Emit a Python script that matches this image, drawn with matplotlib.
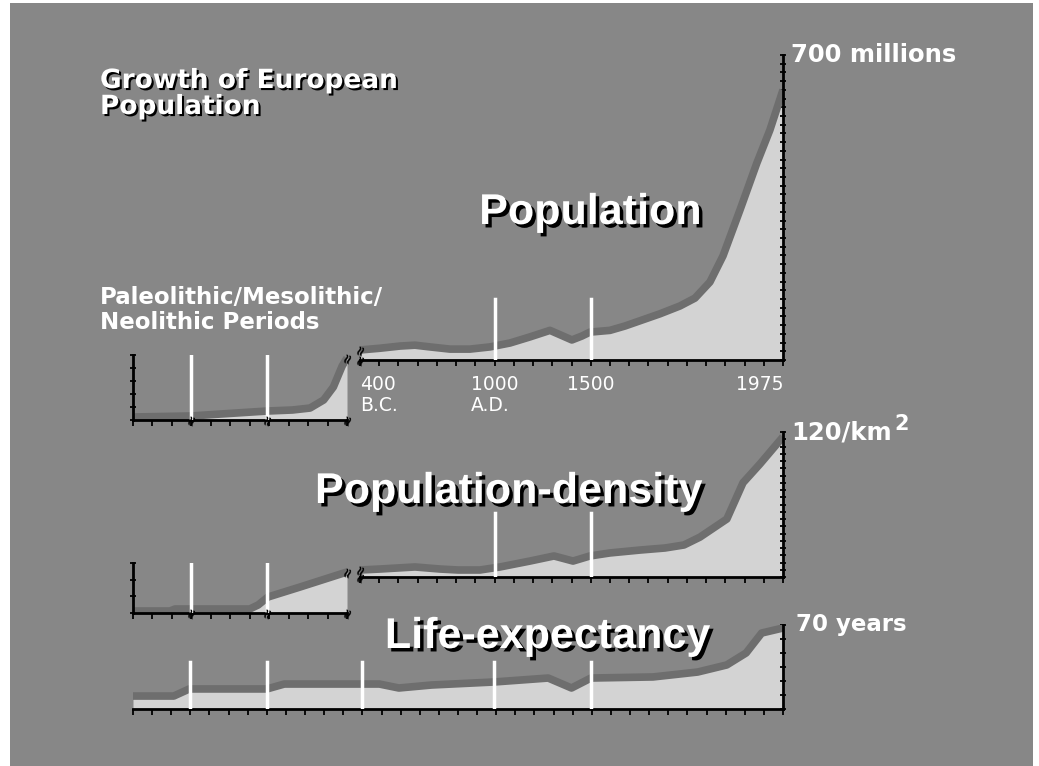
import matplotlib
matplotlib.use('Agg')
import matplotlib.pyplot as plt
import matplotlib.patheffects as pe
import numpy as np

# --- data ---
# prehistoric population panel (tick units 0..11, value units 0..5)
pop_pre_x = [0, 3.0, 4.5, 6.9, 8.2, 9.1, 9.8, 10.3, 10.75, 11]
pop_pre_y = [0.23, 0.31, 0.46, 0.69, 0.77, 0.92, 1.54, 2.54, 4.15, 4.77]
pop_pre_lines = [3.0, 6.9]

# historic population (tick units 0..22, millions)
pop_x = [0, 1.04, 2.08, 2.86, 3.64, 4.68, 5.72, 6.76, 7.8, 8.84, 9.88, 10.4, 11.02,
         11.54, 11.96, 13.0, 13.78, 14.56, 15.6, 16.64, 17.42, 18.2, 18.88, 19.76,
         20.64, 21.32, 22]
pop_y = [23, 27, 32, 34, 30, 25, 25, 30, 39, 53, 68, 58, 46, 55, 64, 68, 78, 90,
         106, 124, 142, 179, 239, 344, 452, 528, 620]
pop_ticks = [0, 7, 12, 22]
pop_tick_labels = ['400\nB.C.', '1000\nA.D.', '1500', '1975']
main_lines = [7, 12]

# prehistoric density (0..11, value units 0..3)
dens_pre_x = [0, 1.9, 2.16, 6.0, 6.43, 6.94, 8.59, 11]
dens_pre_y = [0.12, 0.12, 0.24, 0.24, 0.48, 0.96, 1.56, 2.46]

# historic density (0..22, per km2)
dens_x = [0, 1.04, 2.86, 4.16, 5.1, 6.24, 7.28, 8.84, 10.09, 11.08, 11.96, 13.0,
          14.56, 15.86, 16.85, 17.68, 19.08, 19.92, 20.8, 22]
dens_y = [5.8, 6.6, 8.3, 6.6, 5.8, 5.8, 8.3, 13.2, 17.4, 13.2, 17.4, 19.9, 22.3,
          24, 26.5, 33, 48, 78, 93.5, 116]

# life expectancy (continuous 0..33.5, years)
life_x = [0, 2.1, 2.9, 6.9, 7.8, 12.7, 13.7, 15.4, 18.6, 21.4, 22.6, 23.6, 26.8,
          29.1, 30.6, 31.6, 32.4, 33.5]
life_y = [10.8, 10.8, 16.7, 16.7, 20.8, 20.8, 17.5, 20, 22.5, 25.8, 17.5, 25.8,
          26.7, 30.8, 36.7, 46.7, 63.3, 67.5]
life_lines = [2.94, 6.9, 11.8, 18.6, 23.6]

bg = '#878787'
band = '#6e6e6e'
fill = '#d3d3d3'
W, H = 1039, 766

plt.rcParams['font.family'] = ['Liberation Sans', 'DejaVu Sans']

fig = plt.figure(figsize=(W / 100, H / 100), dpi=100)
fig.patch.set_facecolor('white')
fig.add_artist(plt.Rectangle((10 / W, 0), 1023 / W, 763 / H, transform=fig.transFigure,
                             facecolor=bg, edgecolor='none', zorder=0))


def px_axes(x0, y0, x1, y1):
    # axes from pixel box (top-left origin)
    return fig.add_axes((x0 / W, 1 - y1 / H, (x1 - x0) / W, (y1 - y0) / H))


def style(ax, side):
    ax.patch.set_alpha(0)
    for s in ['top', 'left', 'right']:
        ax.spines[s].set_visible(False)
    ax.spines['bottom'].set_linewidth(2)
    ax.spines[side].set_visible(True)
    ax.spines[side].set_linewidth(2)
    ax.tick_params(axis='x', direction='out', length=4, width=1.3, labelsize=13.5,
                   labelcolor='white', pad=7, labelfontfamily='DejaVu Sans')
    ax.tick_params(axis='y', direction='inout', length=5, width=1.3, left=(side == 'left'),
                   right=(side == 'right'), labelleft=False, labelright=False)


def curve(ax, x, y, lines, line_top):
    ax.fill_between(x, 0, y, color=fill, lw=0, zorder=1)
    ax.plot(x, y, color=band, lw=5.5, solid_capstyle='butt', solid_joinstyle='round', zorder=2)
    for lx in lines:
        ax.axvline(lx, ymin=0, ymax=line_top, color='white', lw=2.5, zorder=3)


def brk(ax, x, y):
    ax.text(x, y, '≈', rotation=70, fontsize=10, fontweight='bold', color='black',
            ha='center', va='center', clip_on=False, zorder=5, family='DejaVu Sans')


def end_label(ax, txt, sup=None, size=17.5):
    t = ax.text(1.02, 1.0, txt, transform=ax.transAxes, color='white', fontsize=size,
                fontweight='bold', ha='left', va='center', family='DejaVu Sans')
    if sup:
        ax.annotate(sup, xy=(1.0, 1.0), xycoords=t, xytext=(2, 4), textcoords='offset points',
                    color='white', fontsize=15, fontweight='bold', ha='left', va='top',
                    family='DejaVu Sans')


# population, prehistoric
ax1 = px_axes(133, 355, 347, 420)
style(ax1, 'left')
curve(ax1, pop_pre_x, pop_pre_y, pop_pre_lines, 1.0)
ax1.set_xlim(0, 11)
ax1.set_ylim(0, 5)
ax1.set_xticks(range(12))
ax1.set_xticklabels([])
ax1.set_yticks(range(6))
for bx in pop_pre_lines + [11]:
    brk(ax1, bx, 0)
brk(ax1, 11, pop_pre_y[-1])

# population, historic
ax2 = px_axes(360, 55, 783, 360)
style(ax2, 'right')
curve(ax2, pop_x, pop_y, main_lines, 0.2)
ax2.set_xlim(0, 22)
ax2.set_ylim(0, 700)
ax2.set_xticks(range(23))
labs = [''] * 23
for t, l in zip(pop_ticks, pop_tick_labels):
    labs[t] = l
ax2.set_xticklabels(labs)
for t in ax2.get_xticklabels():
    t.set_multialignment('left')
    t.set_linespacing(1.1)
ax2.get_xticklabels()[0].set_ha('left')
ax2.get_xticklabels()[22].set_ha('right')
ax2.set_yticks(np.arange(0, 701, 20))
brk(ax2, 0, 0)
brk(ax2, 0, pop_y[0])
end_label(ax2, '700 millions')

# density, prehistoric
ax3 = px_axes(133, 563, 347, 613)
style(ax3, 'left')
curve(ax3, dens_pre_x, dens_pre_y, pop_pre_lines, 1.0)
ax3.set_xlim(0, 11)
ax3.set_ylim(0, 3)
ax3.set_xticks(range(12))
ax3.set_xticklabels([])
ax3.set_yticks(range(4))
for bx in pop_pre_lines + [11]:
    brk(ax3, bx, 0)
brk(ax3, 11, dens_pre_y[-1])

# density, historic
ax4 = px_axes(360, 432, 783, 577)
style(ax4, 'right')
curve(ax4, dens_x, dens_y, main_lines, 0.44)
ax4.set_xlim(0, 22)
ax4.set_ylim(0, 120)
ax4.set_xticks(range(23))
ax4.set_xticklabels([])
ax4.set_yticks(np.arange(0, 121, 6))
brk(ax4, 0, 0)
brk(ax4, 0, dens_y[0])
end_label(ax4, '120/km', '2')

# life expectancy
ax5 = px_axes(133, 625, 783, 709)
style(ax5, 'right')
curve(ax5, life_x, life_y, life_lines, 0.56)
ax5.set_xlim(0, 33.5)
ax5.set_ylim(0, 70)
ax5.set_xticks(np.linspace(0, 33.5, 35))
ax5.set_xticklabels([])
ax5.set_yticks(np.linspace(0, 70, 7))
end_label(ax5, '70 years', size=16.5)

# headings
shadow_big = [pe.SimplePatchShadow(offset=(2.5, -2.5), shadow_rgbFace='black', alpha=1), pe.Normal()]
shadow_small = [pe.SimplePatchShadow(offset=(1.5, -1.5), shadow_rgbFace='black', alpha=1), pe.Normal()]

fig.text(100 / W, 1 - 68 / H, 'Growth of European\nPopulation', color='white', fontsize=19,
         fontweight='bold', ha='left', va='top', linespacing=1.0, family='DejaVu Sans',
         path_effects=shadow_small)
fig.text(100 / W, 1 - 286 / H, 'Paleolithic/Mesolithic/\nNeolithic Periods', color='white',
         fontsize=16.5, fontweight='bold', ha='left', va='top', linespacing=1.1,
         family='DejaVu Sans')
fig.text(590 / W, 1 - 213 / H, 'Population', color='white', fontsize=31, fontweight='bold',
         ha='center', va='center', path_effects=shadow_big)
fig.text(508 / W, 1 - 492 / H, 'Population-density', color='white', fontsize=31,
         fontweight='bold', ha='center', va='center', path_effects=shadow_big)
fig.text(547 / W, 1 - 637 / H, 'Life-expectancy', color='white', fontsize=31,
         fontweight='bold', ha='center', va='center', path_effects=shadow_big)

fig.savefig('out.png', dpi=100, facecolor=fig.get_facecolor())
